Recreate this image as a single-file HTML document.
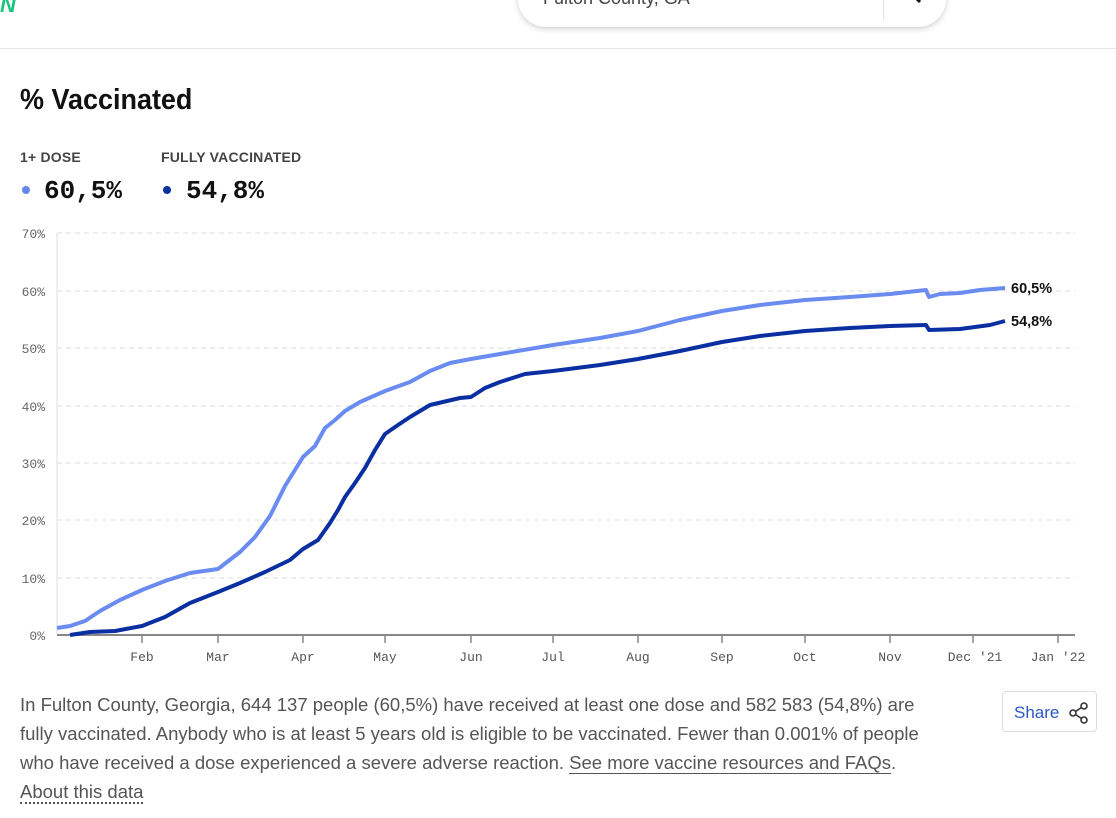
<!DOCTYPE html>
<html><head><meta charset="utf-8"><style>
body{margin:0;width:1116px;height:818px;background:#fff;font-family:"Liberation Sans",sans-serif;position:relative;overflow:hidden}
.abs{position:absolute}
</style></head><body>
<div class="abs" style="left:0;top:-8px;color:#1bc47d;font-weight:bold;font-style:italic;font-size:22px">N</div>
<div class="abs" style="left:518px;top:-30px;width:428px;height:57px;border-radius:28px;box-shadow:0 2px 6px rgba(0,0,0,.18);background:#fff"></div>
<div class="abs" style="left:543px;top:-12px;font-size:18px;color:#444">Fulton County, GA</div>
<div class="abs" style="left:883px;top:-20px;width:1px;height:40px;background:#e5e5e5"></div>
<svg class="abs" style="left:900px;top:-6px" width="26" height="14"><line x1="12" y1="0" x2="20" y2="8" stroke="#111" stroke-width="3"/></svg>
<div class="abs" style="left:0;top:48px;width:1116px;height:1px;background:#e6e6e6"></div>
<div class="abs" style="left:20px;top:84px;font-size:29px;font-weight:bold;color:#111;transform:scaleX(0.93);transform-origin:left">% Vaccinated</div>
<div class="abs" style="left:20px;top:149px;font-size:14px;font-weight:bold;color:#444;letter-spacing:0.2px">1+ DOSE</div>
<div class="abs" style="left:161px;top:149px;font-size:14px;font-weight:bold;color:#444;letter-spacing:0.2px">FULLY VACCINATED</div>
<div class="abs" style="left:22px;top:186px;width:8px;height:8px;border-radius:50%;background:#6688ee"></div>
<div class="abs" style="left:44px;top:176px;font-family:'Liberation Mono',monospace;font-size:26px;font-weight:bold;color:#111">60,5%</div>
<div class="abs" style="left:163px;top:186px;width:8px;height:8px;border-radius:50%;background:#0a2fa0"></div>
<div class="abs" style="left:186px;top:176px;font-family:'Liberation Mono',monospace;font-size:26px;font-weight:bold;color:#111">54,8%</div>
<svg class="abs" style="left:0;top:0" width="1116" height="818">
<g stroke="#ddd" stroke-dasharray="5,4" stroke-width="1">
<line x1="57" x2="1075" y1="233" y2="233"/><line x1="57" x2="1075" y1="291" y2="291"/><line x1="57" x2="1075" y1="348" y2="348"/><line x1="57" x2="1075" y1="406" y2="406"/><line x1="57" x2="1075" y1="463" y2="463"/><line x1="57" x2="1075" y1="520" y2="520"/><line x1="57" x2="1075" y1="578" y2="578"/>
</g>
<line x1="57" x2="57" y1="233" y2="635" stroke="#ddd"/>
<line x1="57" x2="1075" y1="635" y2="635" stroke="#888" stroke-width="2"/>
<g stroke="#888" stroke-width="1.5">
<line x1="142" x2="142" y1="635" y2="643"/><line x1="218" x2="218" y1="635" y2="643"/><line x1="303" x2="303" y1="635" y2="643"/><line x1="385" x2="385" y1="635" y2="643"/><line x1="471" x2="471" y1="635" y2="643"/><line x1="553" x2="553" y1="635" y2="643"/><line x1="638" x2="638" y1="635" y2="643"/><line x1="722" x2="722" y1="635" y2="643"/><line x1="805" x2="805" y1="635" y2="643"/><line x1="890" x2="890" y1="635" y2="643"/><line x1="973" x2="973" y1="635" y2="643"/><line x1="1058" x2="1058" y1="635" y2="643"/>
</g>
<g font-family="Liberation Mono,monospace" font-size="13" fill="#666" text-anchor="end">
<text x="45" y="238">70%</text><text x="45" y="296">60%</text><text x="45" y="353">50%</text><text x="45" y="411">40%</text><text x="45" y="468">30%</text><text x="45" y="525">20%</text><text x="45" y="583">10%</text><text x="45" y="640">0%</text>
</g>
<g font-family="Liberation Mono,monospace" font-size="13" fill="#555" text-anchor="middle">
<text x="142" y="661">Feb</text><text x="218" y="661">Mar</text><text x="303" y="661">Apr</text><text x="385" y="661">May</text><text x="471" y="661">Jun</text><text x="553" y="661">Jul</text><text x="638" y="661">Aug</text><text x="722" y="661">Sep</text><text x="805" y="661">Oct</text><text x="890" y="661">Nov</text><text x="975" y="661">Dec '21</text><text x="1058" y="661">Jan '22</text>
</g>
<polyline fill="none" stroke="#6a8bef" stroke-width="4" stroke-linejoin="round" points="57,628 70,626 85,621 100,611 120,600 142,590 165,581 190,573 218,569 240,552 255,537 270,516 285,486 303,457 315,446 325,428 335,420 345,411 360,402 385,391 410,382 430,371 450,363 471,359 500,354 553,345 600,338 638,331 680,320 722,311 760,305 805,300 850,297 890,294 926,290 929,297 940,294 960,293 980,290 1005,288"/>
<polyline fill="none" stroke="#0a2fa0" stroke-width="4" stroke-linejoin="round" points="70,635 90,632 115,631 142,626 165,617 190,603 218,592 240,583 265,572 290,560 303,549 318,540 330,523 338,510 345,497 355,483 365,468 375,450 385,434 398,425 410,417 430,405 460,398 471,397 485,388 500,382 525,374 553,371 600,365 638,359 680,351 722,342 760,336 805,331 850,328 890,326 926,325 929,330 960,329 990,325 1005,321"/>
<g font-family="Liberation Sans,sans-serif" font-size="14.5" font-weight="bold" fill="#111">
<text x="1011" y="293">60,5%</text><text x="1011" y="326">54,8%</text>
</g>
</svg>
<div class="abs" style="left:20px;top:690px;width:925px;font-size:18.5px;line-height:29px;color:#555">In Fulton County, Georgia, 644 137 people (60,5%) have received at least one dose and 582 583 (54,8%) are fully vaccinated. Anybody who is at least 5 years old is eligible to be vaccinated. Fewer than 0.001% of people who have received a dose experienced a severe adverse reaction. <span style="border-bottom:1px solid #555">See more vaccine resources and FAQs</span>.<br><span style="border-bottom:2px dotted #555">About this data</span></div>
<div class="abs" style="left:1002px;top:691px;width:95px;height:41px;border:1px solid #ddd;border-radius:4px;box-sizing:border-box"></div>
<div class="abs" style="left:1014px;top:703px;font-size:17px;color:#2a56c6">Share</div>
<svg class="abs" style="left:1068px;top:702px" width="22" height="22"><g stroke="#333" stroke-width="1.6" fill="#fff"><line x1="5" y1="11" x2="16" y2="4"/><line x1="5" y1="11" x2="16" y2="18"/><circle cx="5" cy="11" r="3"/><circle cx="16" cy="4" r="3"/><circle cx="16" cy="18" r="3"/></g></svg>
</body></html>
